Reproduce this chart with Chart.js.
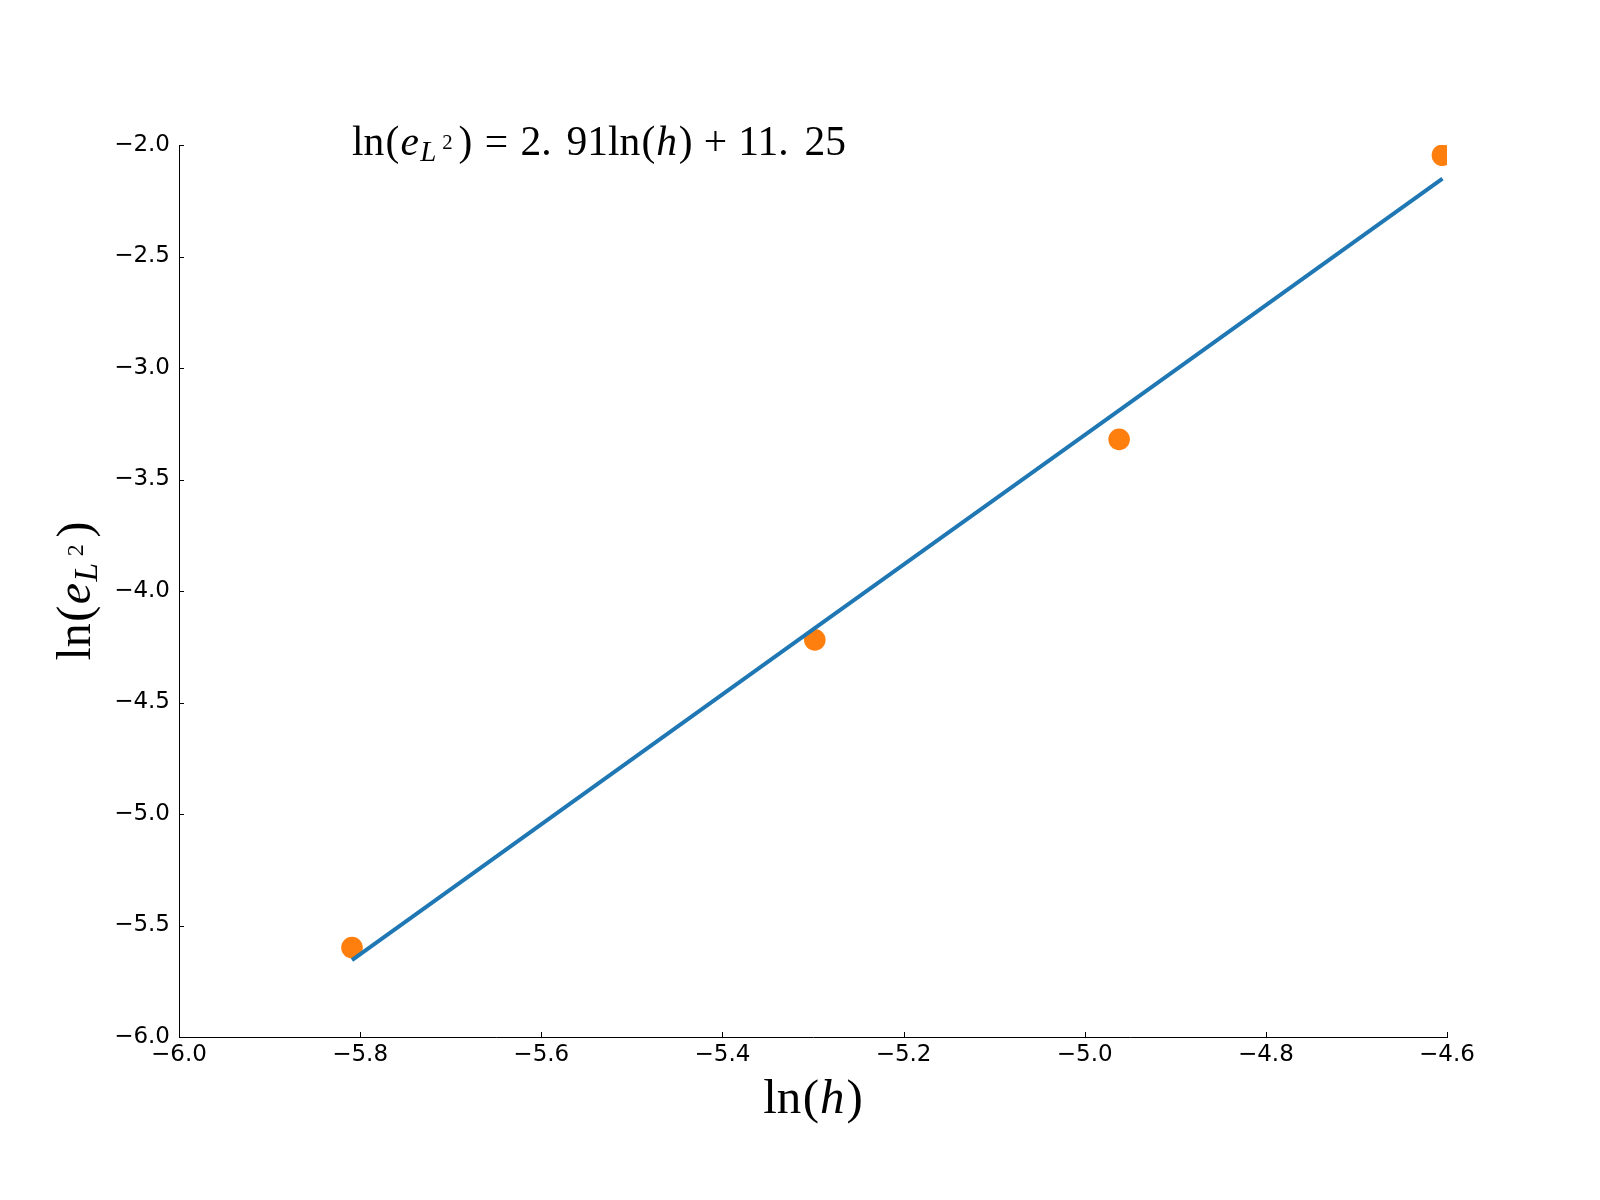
<!DOCTYPE html>
<html>
<head>
<meta charset="utf-8">
<title>ln(e) against ln(h)</title>
<script src="https://cdn.jsdelivr.net/npm/chart.js@4.4.1/dist/chart.umd.min.js"></script>
<style>
  html, body { margin: 0; padding: 0; background: #fff; }
  #wrap { width: 1600px; height: 1200px; }
</style>
</head>
<body>
<div id="wrap"><canvas id="fit" width="1600" height="1200"></canvas></div>
<script>
// ln(h) for h = 0.003, 0.005, 0.007, 0.01
const lnH = [-5.809, -5.298, -4.962, -4.605];
const lnErr = [-5.599, -4.219, -3.320, -2.046];
const lnFit = [-5.655, -4.167, -3.190, -2.151];
const xTicks = [-6.0, -5.8, -5.6, -5.4, -5.2, -5.0, -4.8, -4.6];
const yTicks = [-6.0, -5.5, -5.0, -4.5, -4.0, -3.5, -3.0, -2.5, -2.0];

const SERIF = '"Liberation Serif", "DejaVu Serif", serif';
const SANS = '"DejaVu Sans", sans-serif';

// pieces of a math string: t text, it italic, s scale, dy shift (em), g gap before (em)
const eL2 = [
  { t: 'e', it: true, g: 0.03 },
  { t: 'L', it: true, s: 0.7, dy: 0.15, g: 0.03 },
  { t: '2', s: 0.5, dy: -0.14, g: 0.14 }
];
const yLabel = [{ t: 'ln' }, { t: '(', g: 0.03 }].concat(eL2, [{ t: ')', g: 0.14 }]);
const xLabel = [{ t: 'ln' }, { t: '(', g: 0.03 }, { t: 'h', it: true, g: 0.02 }, { t: ')', g: 0.04 }];
const fitText = yLabel.concat([
  { t: '=', g: 0.3 },
  { t: '2.', g: 0.3 },
  { t: '91', g: 0.36 },
  { t: 'ln' }, { t: '(', g: 0.03 }, { t: 'h', it: true, g: 0.02 }, { t: ')', g: 0.04 },
  { t: '+', g: 0.27 },
  { t: '11.', g: 0.27 },
  { t: '25', g: 0.38 }
]);

function pieceFont(p, size) {
  return (p.it ? 'italic ' : '') + (size * (p.s || 1)) + 'px ' + SERIF;
}

function drawMath(ctx, parts, x, y, size, align) {
  let w = 0;
  parts.forEach(function(p) {
    ctx.font = pieceFont(p, size);
    w += (p.g || 0) * size + ctx.measureText(p.t).width;
  });
  let cx = align === 'center' ? x - w / 2 : x;
  ctx.textAlign = 'left';
  ctx.textBaseline = 'alphabetic';
  parts.forEach(function(p) {
    ctx.font = pieceFont(p, size);
    cx += (p.g || 0) * size;
    ctx.fillText(p.t, cx, y + (p.dy || 0) * size);
    cx += ctx.measureText(p.t).width;
  });
}

function fmt(v) {
  return (v < 0 ? '\u2212' : '') + Math.abs(v).toFixed(1);
}

const extras = {
  id: 'extras',
  afterDraw: function(chart) {
    const ctx = chart.ctx;
    const xs = chart.scales.x, ys = chart.scales.y;
    const a = chart.chartArea;
    ctx.save();
    // inward tick marks
    ctx.strokeStyle = '#000';
    ctx.lineWidth = 1;
    ctx.beginPath();
    xTicks.forEach(function(v) {
      const px = Math.round(xs.getPixelForValue(v)) + 0.5;
      ctx.moveTo(px, a.bottom);
      ctx.lineTo(px, a.bottom - 5);
    });
    yTicks.forEach(function(v) {
      const py = Math.round(ys.getPixelForValue(v)) + 0.5;
      ctx.moveTo(a.left, py);
      ctx.lineTo(a.left + 5, py);
    });
    ctx.stroke();

    ctx.fillStyle = '#000';
    // fit equation, placed at the first x and the last y
    drawMath(ctx, fitText, xs.getPixelForValue(lnH[0]), ys.getPixelForValue(lnErr[lnErr.length - 1]), 41.5, 'left');
    // axis titles
    drawMath(ctx, xLabel, (a.left + a.right) / 2, 1113, 49, 'center');
    ctx.translate(90, (a.top + a.bottom) / 2);
    ctx.rotate(-Math.PI / 2);
    drawMath(ctx, yLabel, 0, 0, 48, 'center');
    ctx.restore();
  }
};

new Chart(document.getElementById('fit'), {
  type: 'scatter',
  data: {
    datasets: [
      {
        label: 'data',
        data: lnH.map(function(x, i) { return { x: x, y: lnErr[i] }; }),
        backgroundColor: '#ff7f0e',
        borderWidth: 0,
        pointRadius: 10.8,
        clip: 0,
        order: 2
      },
      {
        label: 'fit',
        data: lnH.map(function(x, i) { return { x: x, y: lnFit[i] }; }),
        showLine: true,
        borderColor: '#1f77b4',
        borderWidth: 4,
        pointRadius: 0,
        order: 1
      }
    ]
  },
  options: {
    responsive: false,
    animation: false,
    devicePixelRatio: 1,
    layout: { padding: { top: 145, right: 153, bottom: 0, left: 0 } },
    plugins: { legend: { display: false }, tooltip: { enabled: false } },
    scales: {
      x: {
        type: 'linear',
        min: -6.0,
        max: -4.6,
        afterBuildTicks: function(s) { s.ticks = xTicks.map(function(v) { return { value: v }; }); },
        afterFit: function(s) { s.height = 163; },
        grid: { display: false, drawTicks: false },
        border: { display: true, color: '#000', width: 1 },
        ticks: {
          color: '#000',
          padding: 4,
          maxRotation: 0,
          autoSkip: false,
          font: { family: SANS, size: 23 },
          callback: function(v) { return fmt(v); }
        }
      },
      y: {
        type: 'linear',
        min: -6.0,
        max: -2.0,
        afterBuildTicks: function(s) { s.ticks = yTicks.map(function(v) { return { value: v }; }); },
        afterFit: function(s) { s.width = 179; },
        grid: { display: false, drawTicks: false },
        border: { display: true, color: '#000', width: 1 },
        ticks: {
          color: '#000',
          padding: 9,
          autoSkip: false,
          font: { family: SANS, size: 23 },
          callback: function(v) { return fmt(v); }
        }
      }
    }
  },
  plugins: [extras]
});
</script>
</body>
</html>
